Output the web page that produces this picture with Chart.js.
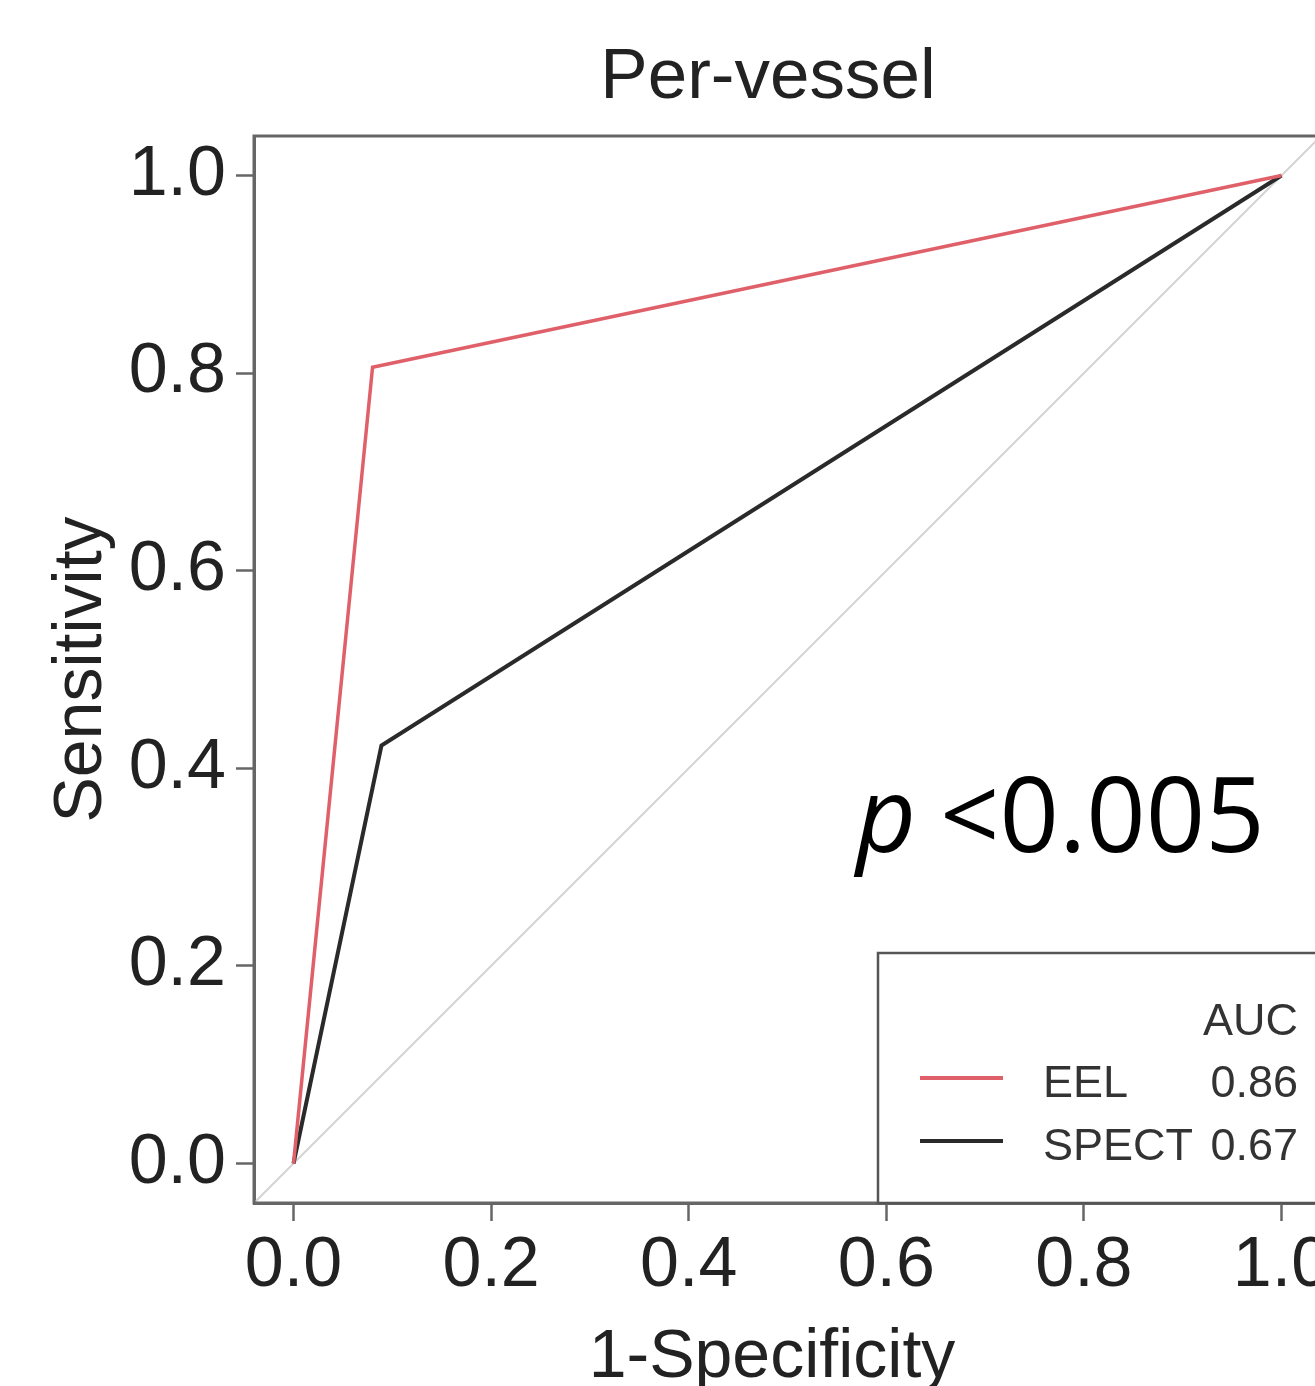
<!DOCTYPE html>
<html>
<head>
<meta charset="utf-8">
<script src="https://cdn.jsdelivr.net/npm/chart.js@4.4.1/dist/chart.umd.min.js"></script>
<style>
  html, body { margin: 0; padding: 0; background: #fff; overflow: hidden; }
  #wrap { width: 1345px; height: 1386px; }
</style>
</head>
<body>
<div id="wrap"><canvas id="rocChart" width="1345" height="1386"></canvas></div>
<script>
// ROC data
const seriesNames = ["EEL", "SPECT"];
const aucValues = ["0.86", "0.67"];
const eelFpr = [0, 0.08, 1];
const eelTpr = [0, 0.806, 1];
const spectFpr = [0, 0.089, 1];
const spectTpr = [0, 0.423, 1];
const tickValues = [0, 0.2, 0.4, 0.6, 0.8, 1.0];
const axisMin = -0.04, axisMax = 1.04;   // R style 4% expansion
const chartTitle = "Per-vessel";
const xTitle = "1-Specificity";
const pLabel = "p";
const pValue = "<0.005";

const lineColors = ["#e0606a", "#2a2a2a"];
const FONT = '"Liberation Sans", Arial, sans-serif';

const toPts = (xs, ys) => xs.map((x, i) => ({ x: x, y: ys[i] }));

// box, titles, p value and AUC legend
const extras = {
  id: 'extras',
  afterDraw(chart) {
    const ctx = chart.ctx;
    const a = chart.chartArea;
    ctx.save();
    ctx.strokeStyle = '#666';
    ctx.lineWidth = 3;
    ctx.strokeRect(a.left, a.top, a.right - a.left, a.bottom - a.top);

    ctx.fillStyle = '#222';
    ctx.font = '71px ' + FONT;
    ctx.textAlign = 'center';
    ctx.textBaseline = 'alphabetic';
    ctx.fillText(chartTitle, 768, 98);
    ctx.font = '68px ' + FONT;
    ctx.fillText(xTitle, 772, 1377);

    // p value
    ctx.fillStyle = '#000';
    ctx.textAlign = 'left';
    ctx.font = 'italic 104px "Open Sans", sans-serif';
    ctx.fillText(pLabel, 856, 852);
    ctx.font = '104px "Open Sans", sans-serif';
    ctx.fillText(pValue, 940, 852);

    // legend box
    const lx = 878, ly = 953;
    ctx.fillStyle = '#fff';
    ctx.fillRect(lx, ly, a.right - lx, a.bottom - ly);
    ctx.strokeStyle = '#555';
    ctx.lineWidth = 2.5;
    ctx.strokeRect(lx, ly, a.right - lx, a.bottom - ly);

    ctx.font = '45px ' + FONT;
    ctx.fillStyle = '#333';
    ctx.textAlign = 'right';
    ctx.fillText("AUC", 1298, 1035);
    seriesNames.forEach((name, i) => {
      const base = 1097 + i * 63;
      const ly2 = 1078 + i * 63;
      ctx.strokeStyle = lineColors[i];
      ctx.lineWidth = 4;
      ctx.beginPath();
      ctx.moveTo(920, ly2);
      ctx.lineTo(1003, ly2);
      ctx.stroke();
      ctx.fillStyle = '#333';
      ctx.textAlign = 'left';
      ctx.fillText(name, 1043, base);
      ctx.textAlign = 'right';
      ctx.fillText(aucValues[i], 1298, base);
    });
    ctx.restore();
  }
};

const axisCommon = {
  type: 'linear',
  min: axisMin,
  max: axisMax,
  afterBuildTicks: s => { s.ticks = tickValues.map(v => ({ value: v })); },
  grid: { drawOnChartArea: false, drawTicks: true, tickLength: 18, tickWidth: 2.5, tickColor: '#666' },
  border: { display: true, color: '#666', width: 3 },
};

new Chart(document.getElementById('rocChart'), {
  type: 'scatter',
  data: {
    datasets: [
      { label: seriesNames[0], data: toPts(eelFpr, eelTpr), borderColor: lineColors[0], borderWidth: 3.5 },
      { label: seriesNames[1], data: toPts(spectFpr, spectTpr), borderColor: lineColors[1], borderWidth: 4 },
      { label: 'ref', data: toPts([axisMin, axisMax], [axisMin, axisMax]), borderColor: '#d4d4d4', borderWidth: 2 }
    ]
  },
  options: {
    responsive: false,
    animation: false,
    devicePixelRatio: 1,
    layout: { padding: { left: 0, right: 24, top: 136, bottom: 0 } },
    datasets: { scatter: { showLine: true, pointRadius: 0, tension: 0, fill: false } },
    plugins: { legend: { display: false }, tooltip: { enabled: false } },
    scales: {
      x: Object.assign({}, axisCommon, {
        position: 'bottom',
        afterFit: s => { s.height = 183; },
        ticks: { font: { size: 70, family: FONT }, color: '#222', padding: 4, maxRotation: 0,
                 callback: v => v.toFixed(1) }
      }),
      y: Object.assign({}, axisCommon, {
        position: 'left',
        afterFit: s => { s.width = 254; },
        ticks: { font: { size: 70, family: FONT }, color: '#222', padding: 10,
                 callback: v => v.toFixed(1) },
        title: { display: true, text: 'Sensitivity', color: '#222',
                 font: { size: 68, family: FONT, lineHeight: 1 }, padding: { top: 48, bottom: 0 } }
      })
    }
  },
  plugins: [extras]
});
</script>
</body>
</html>
